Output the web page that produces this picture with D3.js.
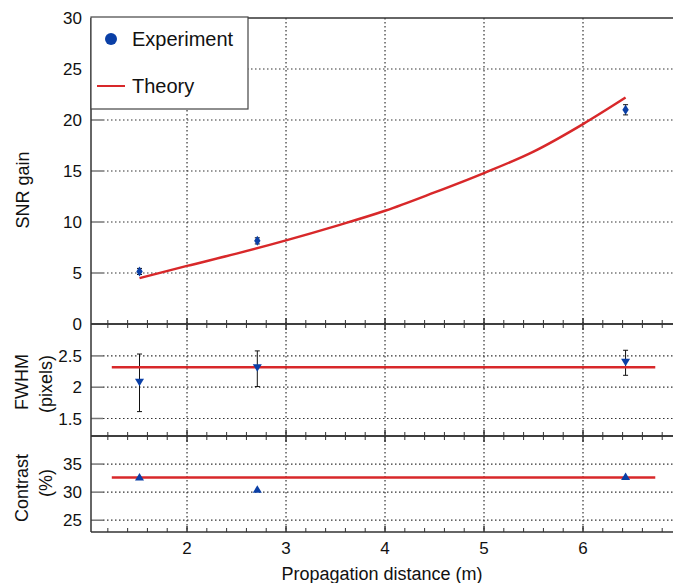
<!DOCTYPE html>
<html><head><meta charset="utf-8">
<script src="https://cdn.jsdelivr.net/npm/d3@7"></script>
<style>
html,body{margin:0;padding:0;background:#fff;}
svg{display:block;font-family:"Liberation Sans",Arial,Helvetica,sans-serif;}
</style></head>
<body>
<svg id="chart" width="673" height="583"></svg>
<script>
// ---- data ----
const expX = [1.52, 2.71, 6.43];
const snrExp = [5.15, 8.15, 21.0];
const snrErr = [0.3, 0.3, 0.5];
const theoryX = [1.52, 2.0, 2.5, 3.0, 3.5, 4.0, 4.5, 5.0, 5.5, 6.0, 6.43];
const snrTheory = [4.5, 5.7, 6.9, 8.2, 9.6, 11.1, 12.9, 14.8, 16.9, 19.6, 22.2];
const fwhmExp = [2.08, 2.31, 2.40];
const fwhmLo = [1.61, 2.01, 2.19];
const fwhmHi = [2.53, 2.58, 2.59];
const flatX = [1.24, 6.73];
const fwhmTheory = [2.32, 2.32];
const contrastExp = [32.7, 30.5, 32.8];
const contrastTheory = [32.6, 32.6];
const xTicks = [2, 3, 4, 5, 6];
const snrTicks = [0, 5, 10, 15, 20, 25, 30];
const fwhmTicks = [1.5, 2, 2.5];
const contrastTicks = [25, 30, 35];
const legendLabels = ["Experiment", "Theory"];

// ---- layout ----
const svg = d3.select("#chart");
const left = 91, right = 682;
const blue = "#0a3fa6", red = "#d8282a", axisCol = "#333";
const x = d3.scaleLinear().domain([1.03, 7.0]).range([left, right]);

const panels = [
  {y: d3.scaleLinear().domain([0, 30]).range([324, 18]), ticks: snrTicks, fmt: d3.format("d")},
  {y: d3.scaleLinear().domain([1.22, 3.01]).range([436, 324]), ticks: fwhmTicks, fmt: d => String(d)},
  {y: d3.scaleLinear().domain([22.9, 40]).range([532, 436]), ticks: contrastTicks, fmt: d3.format("d")}
];

const minorTicks = d3.range(1.2, 6.95, 0.2).map(v => +v.toFixed(1)).filter(v => Math.abs(v - Math.round(v)) > 1e-6);

panels.forEach((p, i) => {
  const [y0, y1] = p.y.range(); // bottom, top
  const g = svg.append("g");
  g.selectAll(".vg").data(xTicks).join("line")
    .attr("x1", d => x(d)).attr("x2", d => x(d)).attr("y1", y1).attr("y2", y0)
    .attr("stroke", "#333").attr("stroke-width", 1.2).attr("stroke-dasharray", "1.5,2.5");
  const hg = p.ticks.filter(t => Math.abs(p.y(t) - y0) > 2 && Math.abs(p.y(t) - y1) > 2);
  g.selectAll(".hg").data(hg).join("line")
    .attr("x1", left + 12).attr("x2", right).attr("y1", d => p.y(d)).attr("y2", d => p.y(d))
    .attr("stroke", "#333").attr("stroke-width", 1.2).attr("stroke-dasharray", "1.5,2.5");
  g.selectAll(".yt").data(hg).join("line")
    .attr("x1", left).attr("x2", left + 12).attr("y1", d => p.y(d)).attr("y2", d => p.y(d))
    .attr("stroke", "#777").attr("stroke-width", 1.5);
  g.selectAll(".yl").data(p.ticks).join("text")
    .attr("x", 82).attr("y", d => p.y(d)).attr("dy", "0.36em")
    .attr("text-anchor", "end").attr("font-size", 17).attr("fill", "#111")
    .text(p.fmt);
  [[y0, -1], [y1, 1]].forEach(([yy, dir]) => {
    if (i === 0 && dir === 1) return;
    g.selectAll(null).data(minorTicks).join("line")
      .attr("x1", d => x(d)).attr("x2", d => x(d)).attr("y1", yy).attr("y2", yy + dir * 4)
      .attr("stroke", axisCol).attr("stroke-width", 1);
    g.selectAll(null).data(xTicks).join("line")
      .attr("x1", d => x(d)).attr("x2", d => x(d)).attr("y1", yy).attr("y2", yy + dir * 6)
      .attr("stroke", axisCol).attr("stroke-width", 1.5);
  });
  g.append("line").attr("x1", left).attr("x2", right).attr("y1", y0).attr("y2", y0)
    .attr("stroke", axisCol).attr("stroke-width", 1.5);
  g.append("line").attr("x1", left).attr("x2", right).attr("y1", y1).attr("y2", y1)
    .attr("stroke", axisCol).attr("stroke-width", 1.5);
  g.append("line").attr("x1", left).attr("x2", left).attr("y1", y1).attr("y2", y0)
    .attr("stroke", axisCol).attr("stroke-width", 1.5);
});

const line = (ys, y, curve) => d3.line().x(d => x(d)).y((d, i) => y(ys[i])).curve(curve || d3.curveLinear);

// ---- top panel: SNR gain ----
const yS = panels[0].y;
svg.append("path").datum(theoryX).attr("d", line(snrTheory, yS, d3.curveMonotoneX))
  .attr("fill", "none").attr("stroke", red).attr("stroke-width", 2.5);
const errG = svg.append("g").attr("stroke", "#111").attr("stroke-width", 1);
expX.forEach((xv, i) => {
  const lo = yS(snrExp[i] - snrErr[i]), hi = yS(snrExp[i] + snrErr[i]);
  errG.append("line").attr("x1", x(xv)).attr("x2", x(xv)).attr("y1", lo).attr("y2", hi);
  errG.append("line").attr("x1", x(xv) - 2.5).attr("x2", x(xv) + 2.5).attr("y1", lo).attr("y2", lo);
  errG.append("line").attr("x1", x(xv) - 2.5).attr("x2", x(xv) + 2.5).attr("y1", hi).attr("y2", hi);
});
svg.selectAll(".dia").data(expX).join("path")
  .attr("transform", (d, i) => `translate(${x(d)},${yS(snrExp[i])})`)
  .attr("d", "M0,-5L3.2,0L0,5L-3.2,0Z").attr("fill", blue);

// ---- middle panel: FWHM ----
const yF = panels[1].y;
svg.append("path").datum(flatX).attr("d", line(fwhmTheory, yF))
  .attr("fill", "none").attr("stroke", red).attr("stroke-width", 2.5);
expX.forEach((xv, i) => {
  const lo = yF(fwhmLo[i]), hi = yF(fwhmHi[i]);
  errG.append("line").attr("x1", x(xv)).attr("x2", x(xv)).attr("y1", lo).attr("y2", hi);
  errG.append("line").attr("x1", x(xv) - 2.5).attr("x2", x(xv) + 2.5).attr("y1", lo).attr("y2", lo);
  errG.append("line").attr("x1", x(xv) - 2.5).attr("x2", x(xv) + 2.5).attr("y1", hi).attr("y2", hi);
});
svg.selectAll(".tdn").data(expX).join("path")
  .attr("transform", (d, i) => `translate(${x(d)},${yF(fwhmExp[i])})`)
  .attr("d", "M-4.5,-3.5L4.5,-3.5L0,4Z").attr("fill", blue);

// ---- bottom panel: Contrast ----
const yC = panels[2].y;
svg.append("path").datum(flatX).attr("d", line(contrastTheory, yC))
  .attr("fill", "none").attr("stroke", red).attr("stroke-width", 2.5);
svg.selectAll(".tup").data(expX).join("path")
  .attr("transform", (d, i) => `translate(${x(d)},${yC(contrastExp[i])})`)
  .attr("d", "M-4.5,3.5L4.5,3.5L0,-4Z").attr("fill", blue);

// ---- x axis labels ----
svg.selectAll(".xl").data(xTicks).join("text")
  .attr("x", d => x(d)).attr("y", 554).attr("text-anchor", "middle")
  .attr("font-size", 17).attr("fill", "#111").text(d => d);
svg.append("text").attr("x", 382).attr("y", 580).attr("text-anchor", "middle")
  .attr("font-size", 18).attr("fill", "#111").text("Propagation distance (m)");

// ---- y axis titles ----
function vtext(cx, cy, t) {
  svg.append("text").attr("transform", `translate(${cx},${cy}) rotate(-90)`)
    .attr("text-anchor", "middle").attr("dy", "0.35em")
    .attr("font-size", 18).attr("fill", "#111").text(t);
}
vtext(23, 190, "SNR gain");
vtext(22, 382, "FWHM");
vtext(46, 384, "(pixels)");
vtext(22, 488, "Contrast");
vtext(46, 483, "(%)");

// ---- legend ----
const lg = svg.append("g");
lg.append("rect").attr("x", 91).attr("y", 17).attr("width", 157).attr("height", 92)
  .attr("fill", "#fff").attr("stroke", "#444").attr("stroke-width", 1.2);
lg.append("circle").attr("cx", 111).attr("cy", 39).attr("r", 6).attr("fill", blue);
lg.append("line").attr("x1", 97).attr("x2", 125).attr("y1", 86).attr("y2", 86)
  .attr("stroke", red).attr("stroke-width", 2);
lg.append("text").attr("x", 132).attr("y", 46).attr("font-size", 20).attr("fill", "#111").text(legendLabels[0]);
lg.append("text").attr("x", 132).attr("y", 93).attr("font-size", 20).attr("fill", "#111").text(legendLabels[1]);
</script>
</body></html>
